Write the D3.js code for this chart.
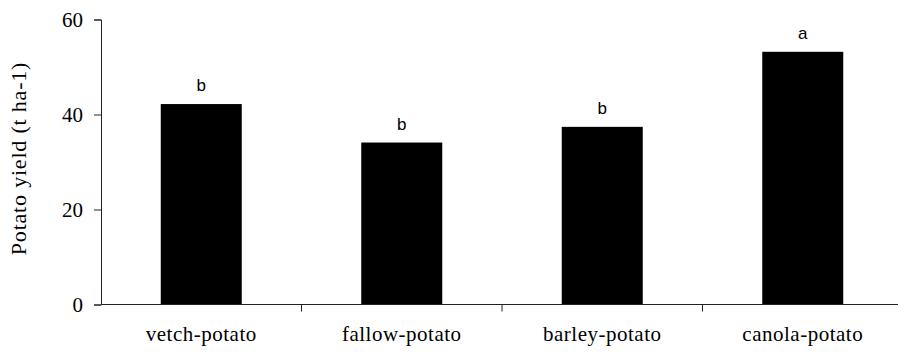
<!DOCTYPE html>
<html>
<head>
<meta charset="utf-8">
<script src="https://cdn.jsdelivr.net/npm/d3@7"></script>
<style>
  html, body { margin: 0; padding: 0; background: #fff; }
  svg { display: block; }
</style>
</head>
<body>
<script>
// Potato yield after each rotation crop, with mean-separation letters
const categories = ["vetch-potato", "fallow-potato", "barley-potato", "canola-potato"];
const yields = [42.2, 34.1, 37.4, 53.2];
const letters = ["b", "b", "b", "a"];
const yTicks = [0, 20, 40, 60];

const W = 898, H = 354;
const svg = d3.select("body").append("svg").attr("width", W).attr("height", H);

const plotLeft = 101, plotRight = 903, plotTop = 19.5, plotBottom = 304.5;

const x = d3.scaleBand().domain(categories).range([plotLeft, plotRight])
  .paddingInner(0.596).paddingOuter(0.298);
const y = d3.scaleLinear().domain([0, 60]).range([plotBottom, plotTop]);

const serif = "'Liberation Serif', 'Times New Roman', serif";
const sans = "'Liberation Sans', Arial, sans-serif";

// bars
svg.append("g").selectAll("rect").data(categories).join("rect")
  .attr("x", d => x(d))
  .attr("width", x.bandwidth())
  .attr("y", (d, i) => y(yields[i]))
  .attr("height", (d, i) => y(0) - y(yields[i]))
  .attr("fill", "#000");

// significance letters
svg.append("g").selectAll("text").data(categories).join("text")
  .attr("x", d => x(d) + x.bandwidth() / 2)
  .attr("y", (d, i) => y(yields[i]) - 13)
  .attr("text-anchor", "middle")
  .attr("font-family", sans)
  .attr("font-size", 17)
  .text((d, i) => letters[i]);

// y axis
const yAxis = d3.axisLeft(y).tickValues(yTicks).tickSize(7).tickPadding(11);
const gy = svg.append("g").attr("transform", `translate(${plotLeft},0)`).call(yAxis);
gy.select(".domain").attr("stroke", "#222");
gy.selectAll(".tick line").attr("stroke", "#222");
gy.selectAll(".tick text").attr("font-family", serif).attr("font-size", 21).attr("fill", "#000");

// x axis with ticks at category boundaries
const step = x.step();
const bounds = categories.map(d => x(d) - (step - x.bandwidth()) / 2);
const gx = svg.append("g");
gx.append("line").attr("x1", plotLeft).attr("x2", W).attr("y1", plotBottom).attr("y2", plotBottom)
  .attr("stroke", "#222");
gx.selectAll("line.tk").data(bounds.slice(1)).join("line").attr("class", "tk")
  .attr("x1", d => d).attr("x2", d => d)
  .attr("y1", plotBottom).attr("y2", plotBottom + 7).attr("stroke", "#222");
gx.selectAll("text").data(categories).join("text")
  .attr("x", d => x(d) + x.bandwidth() / 2)
  .attr("y", 341)
  .attr("text-anchor", "middle")
  .attr("font-family", serif)
  .attr("font-size", 21)
  .attr("letter-spacing", 0.5)
  .text(d => d);

// y axis title
svg.append("text")
  .attr("transform", "translate(26,158.5) rotate(-90)")
  .attr("text-anchor", "middle")
  .attr("font-family", serif)
  .attr("font-size", 22)
  .attr("letter-spacing", 0.8)
  .text("Potato yield (t ha-1)");
</script>
</body>
</html>
